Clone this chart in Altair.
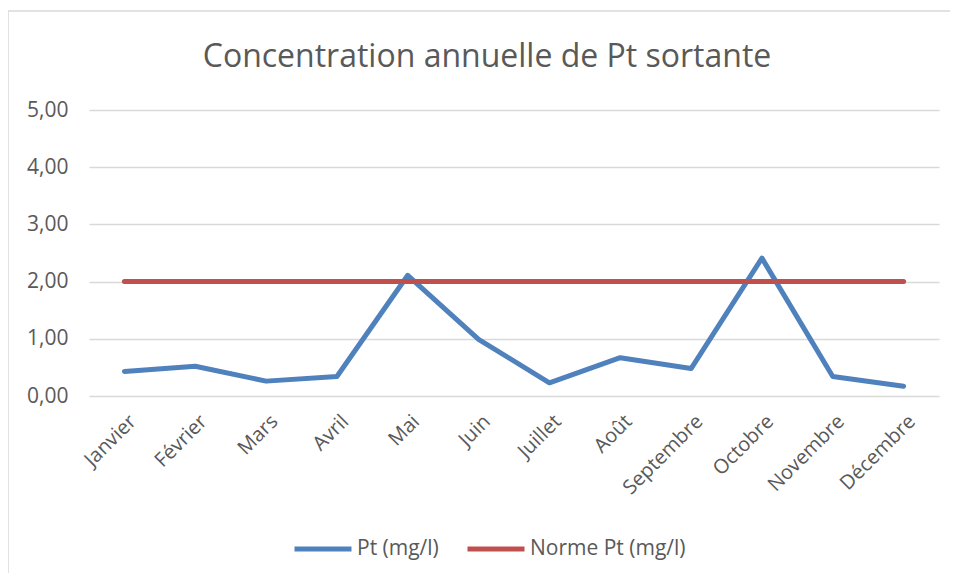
import altair as alt
import pandas as pd

months = ["Janvier", "Février", "Mars", "Avril", "Mai", "Juin", "Juillet",
          "Août", "Septembre", "Octobre", "Novembre", "Décembre"]
pt_values = [0.43, 0.52, 0.26, 0.34, 2.11, 0.99, 0.23, 0.67, 0.48, 2.41, 0.34, 0.17]
norme_values = [2.00] * 12
series_names = ["Pt (mg/l)", "Norme Pt (mg/l)"]
series_colors = ["#4f81bd", "#c0504d"]
title_text = "Concentration annuelle de Pt sortante"

rows = []
for i, m in enumerate(months):
    rows.append({"mois": m, "serie": series_names[0], "val": pt_values[i], "ordre": 0})
for i, m in enumerate(months):
    rows.append({"mois": m, "serie": series_names[1], "val": norme_values[i], "ordre": 1})
df = pd.DataFrame(rows)

FONT = "Open Sans"
GREY = "#595959"
BORDER = "#d9d9d9"

lines = alt.Chart(df).mark_line(strokeWidth=5, strokeCap="round", strokeJoin="round").encode(
    x=alt.X("mois:N", sort=months, scale=alt.Scale(type="point", padding=0.5),
            axis=alt.Axis(title=None, labelAngle=-45, labelAlign="right", labelBaseline="top",
                          labelPadding=15, labelOffset=1, labelFontSize=20, labelColor=GREY,
                          labelFont=FONT, ticks=False, domain=False, grid=False,
                          labelOverlap=False)),
    y=alt.Y("val:Q", scale=alt.Scale(domain=[0, 5], nice=False),
            axis=alt.Axis(title=None, values=[0, 1, 2, 3, 4, 5],
                          labelExpr="replace(format(datum.value, '.2f'), '.', ',')",
                          labelFontSize=21, labelColor=GREY, labelFont=FONT, labelPadding=21,
                          labelOverlap=False, ticks=False, domain=False, grid=True,
                          gridColor=BORDER, gridWidth=1.5)),
    color=alt.Color("serie:N", sort=series_names,
                    scale=alt.Scale(domain=series_names, range=series_colors),
                    legend=alt.Legend(title=None, orient="none", direction="horizontal",
                                      legendX=203, legendY=408, symbolType="stroke",
                                      symbolSize=3249, symbolStrokeWidth=5,
                                      labelFontSize=21, labelColor=GREY, labelFont=FONT,
                                      labelOffset=3, columnPadding=18)),
    order=alt.Order("ordre:Q"),
    detail="serie:N",
)

one = pd.DataFrame({"a": [0]})
top_rule = alt.Chart(one).mark_rule(color=BORDER, strokeWidth=1.5).encode(
    x=alt.value(-81), x2=alt.value(870), y=alt.value(-99))
left_rule = alt.Chart(one).mark_rule(color=BORDER, strokeWidth=1.5).encode(
    x=alt.value(-81), y=alt.value(-99), y2=alt.value(480))

title = alt.Chart(pd.DataFrame({"t": [title_text]})).mark_text(
    font=FONT, fontSize=32, color=GREY, align="center", baseline="alphabetic"
).encode(text="t:N", x=alt.value(398), y=alt.value(-43))

chart = alt.layer(top_rule, left_rule, title, lines).properties(
    width=850, height=286,
    background="white",
    autosize=alt.AutoSizeParams(type="none"),
    padding={"left": 81, "top": 102, "right": 11, "bottom": 177},
).configure_view(strokeWidth=0, stroke="transparent")

chart.save("out.html", embed_options={"renderer": "svg", "actions": False})
